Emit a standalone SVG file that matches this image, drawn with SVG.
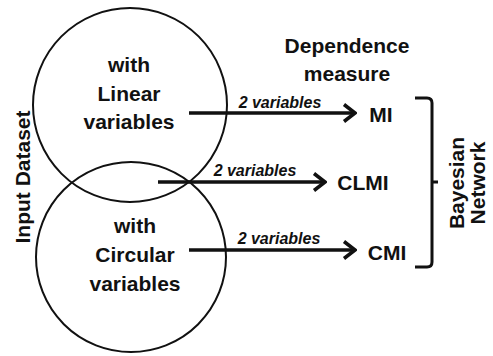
<svg xmlns="http://www.w3.org/2000/svg" width="493" height="356" viewBox="0 0 493 356">
  <style>
    .lbl { font-family: "Liberation Sans", Arial, sans-serif; font-weight: bold; font-size: 21px; fill: #111; text-anchor: middle; }
    .edge { font-family: "Liberation Sans", Arial, sans-serif; font-weight: bold; font-style: italic; font-size: 16px; fill: #111; text-anchor: middle; }
    .ring { fill: none; stroke: #111; stroke-width: 2; }
    .arrow { fill: none; stroke: #111; stroke-width: 3.5; marker-end: url(#chev); }
  </style>
  <defs>
    <marker id="chev" markerUnits="userSpaceOnUse" markerWidth="16" markerHeight="22" viewBox="-14 -11 16 22" refX="0" refY="0" orient="auto">
      <path d="M -11 -8.5 L 0 0 L -11 8.5" fill="none" stroke="#111" stroke-width="3.5"/>
    </marker>
  </defs>
  <rect width="493" height="356" fill="#fff"/>

  <g id="linear-set">
    <circle class="ring" cx="130" cy="105" r="97"/>
    <text class="lbl" x="129" y="72">with</text>
    <text class="lbl" x="129" y="101">Linear</text>
    <text class="lbl" x="129" y="129">variables</text>
  </g>

  <g id="circular-set">
    <circle class="ring" cx="131" cy="257" r="95"/>
    <text class="lbl" x="135" y="233">with</text>
    <text class="lbl" x="135" y="262">Circular</text>
    <text class="lbl" x="135" y="291">variables</text>
  </g>

  <g id="input-dataset">
    <text class="lbl" transform="translate(30 177) rotate(-90)" x="0" y="0">Input Dataset</text>
  </g>

  <g id="heading">
    <text class="lbl" x="347" y="53">Dependence</text>
    <text class="lbl" x="347" y="81">measure</text>
  </g>

  <g id="mi"><text class="lbl" x="381" y="122">MI</text></g>
  <g id="clmi"><text class="lbl" x="363" y="190">CLMI</text></g>
  <g id="cmi"><text class="lbl" x="387" y="260">CMI</text></g>

  <g id="bayesian-network">
    <path d="M 415 98 L 427 98 Q 432 98 432 103 L 432 262 Q 432 267 427 267 L 415 267 M 432 182 L 438 182" fill="none" stroke="#111" stroke-width="3"/>
    <text class="lbl" transform="translate(464 183) rotate(-90)" x="0" y="0">Bayesian</text>
    <text class="lbl" transform="translate(485 183) rotate(-90)" x="0" y="0">Network</text>
  </g>

  <g id="connectors">
    <line class="arrow" x1="189" y1="113" x2="355" y2="113"/>
    <text class="edge" x="280" y="108">2 variables</text>
    <line class="arrow" x1="158" y1="182" x2="325" y2="182"/>
    <text class="edge" x="255" y="176">2 variables</text>
    <line class="arrow" x1="189" y1="250" x2="355" y2="250"/>
    <text class="edge" x="279" y="244">2 variables</text>
  </g>
</svg>
